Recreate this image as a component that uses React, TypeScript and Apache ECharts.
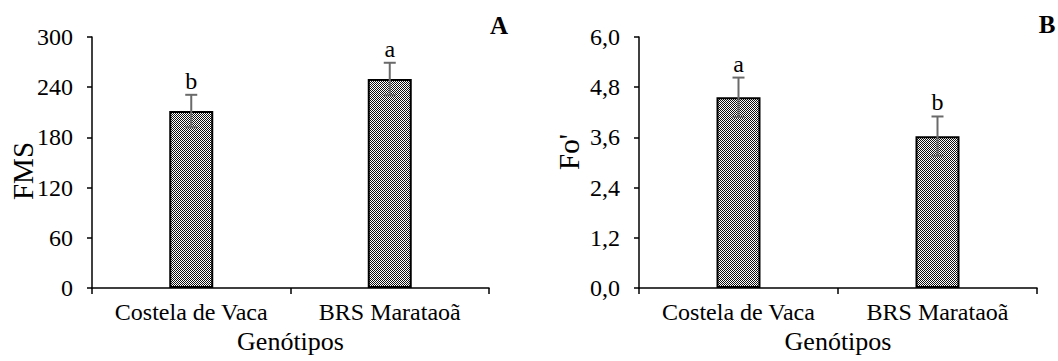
import React, { useEffect, useRef } from "react";
import * as echarts from "echarts";

const categories = ["Costela de Vaca", "BRS Marataoã"];
const fmsValues = [211.5, 249.8];
const fmsErrors = [19.4, 19.4];
const fmsLetters = ["b", "a"];
const foValues = [4.56, 3.63];
const foErrors = [0.47, 0.47];
const foLetters = ["a", "b"];
const fmsTicks = { min: 0, max: 300, interval: 60 };
const foTicks = { min: 0, max: 6, interval: 1.2 };

const FONT = "'Liberation Serif', 'Times New Roman', serif";

function makePattern(): string {
  const c = document.createElement("canvas");
  c.width = 2;
  c.height = 2;
  const ctx = c.getContext("2d")!;
  ctx.fillStyle = "#ffffff";
  ctx.fillRect(0, 0, 2, 2);
  ctx.fillStyle = "#111111";
  ctx.fillRect(0, 0, 1, 1);
  ctx.fillRect(1, 1, 1, 1);
  return c.toDataURL();
}

export default function App() {
  const ref = useRef<HTMLDivElement>(null);
  useEffect(() => {
    document.body.style.margin = "0";
    if (!ref.current) return;
    const chart = echarts.init(ref.current, null, { renderer: "svg" });
    const pattern = { image: makePattern(), repeat: "repeat" };

    const errSeries = (gi: number, vals: number[], errs: number[], letters: string[]) => ({
      type: "custom",
      xAxisIndex: gi,
      yAxisIndex: gi,
      z: 5,
      data: vals.map((v, i) => [i, v, errs[i]]),
      renderItem: (params: any, api: any) => {
        const idx = api.value(0);
        const m = api.value(1);
        const e = api.value(2);
        const top = api.coord([idx, m + e]);
        const bot = api.coord([idx, m - e]);
        const hw = 6;
        const st = { stroke: "#6a6a6a", lineWidth: 2 };
        return {
          type: "group",
          children: [
            { type: "line", shape: { x1: top[0], y1: top[1], x2: bot[0], y2: bot[1] }, style: st },
            { type: "line", shape: { x1: top[0] - hw, y1: top[1], x2: top[0] + hw, y2: top[1] }, style: st },
            { type: "line", shape: { x1: bot[0] - hw, y1: bot[1], x2: bot[0] + hw, y2: bot[1] }, style: st },
            {
              type: "text",
              x: top[0],
              y: top[1] - 14,
              style: {
                text: letters[params.dataIndex],
                fontFamily: FONT,
                fontSize: 24,
                fill: "#000",
                align: "center",
                verticalAlign: "middle",
              },
            },
          ],
        };
      },
    });

    const xAxis = (gi: number) => ({
      type: "category",
      gridIndex: gi,
      data: categories,
      name: "Genótipos",
      nameLocation: "middle",
      nameGap: 40,
      nameTextStyle: { fontFamily: FONT, fontSize: 26, color: "#000" },
      axisLine: { lineStyle: { color: "#000", width: 1.5 } },
      axisTick: { show: true, length: 6, lineStyle: { color: "#000", width: 1.5 } },
      axisLabel: { fontFamily: FONT, fontSize: 24, color: "#000", margin: 12, interval: 0, hideOverlap: false },
    });

    const yAxis = (gi: number, t: any, fmt: (v: number) => string) => ({
      type: "value",
      gridIndex: gi,
      min: t.min,
      max: t.max,
      interval: t.interval,
      splitLine: { show: false },
      axisLine: { show: true, lineStyle: { color: "#000", width: 1.5 } },
      axisTick: { show: true, length: 5, lineStyle: { color: "#000", width: 1.5 } },
      axisLabel: { fontFamily: FONT, fontSize: 24, color: "#000", margin: 19, formatter: fmt },
    });

    const label = (text: string, x: number, y: number, size: number, bold: boolean, rot = 0) => ({
      type: "text",
      x,
      y,
      rotation: rot,
      style: {
        text,
        fontFamily: FONT,
        fontSize: size,
        fontWeight: bold ? "bold" : "normal",
        fill: "#000",
        align: "center",
        verticalAlign: "middle",
      },
    });

    chart.setOption({
      animation: false,
      backgroundColor: "#fff",
      grid: [
        { left: 92, right: 569, top: 37, bottom: 73 },
        { left: 639, right: 21, top: 37, bottom: 73 },
      ],
      xAxis: [xAxis(0), xAxis(1)],
      yAxis: [
        yAxis(0, fmsTicks, (v: number) => String(Math.round(v))),
        yAxis(1, foTicks, (v: number) => v.toFixed(1).replace(".", ",")),
      ],
      graphic: [
        label("A", 499, 25, 25, true),
        label("B", 1047, 24, 25, true),
        label("FMS", 23, 171, 29, false, Math.PI / 2),
        label("Fo'", 569, 152, 29, false, Math.PI / 2),
      ],
      series: [
        {
          type: "bar",
          xAxisIndex: 0,
          yAxisIndex: 0,
          data: fmsValues,
          barWidth: 44,
          itemStyle: { color: pattern, borderColor: "#000", borderWidth: 2 },
        },
        errSeries(0, fmsValues, fmsErrors, fmsLetters),
        {
          type: "bar",
          xAxisIndex: 1,
          yAxisIndex: 1,
          data: foValues,
          barWidth: 44,
          itemStyle: { color: pattern, borderColor: "#000", borderWidth: 2 },
        },
        errSeries(1, foValues, foErrors, foLetters),
      ],
    });
    return () => chart.dispose();
  }, []);
  return <div ref={ref} style={{ width: 1058, height: 361 }} />;
}
